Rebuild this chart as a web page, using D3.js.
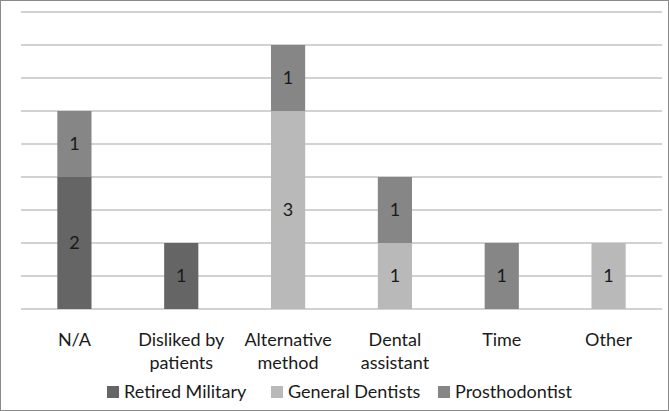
<!DOCTYPE html>
<html><head><meta charset="utf-8">
<script src="https://cdn.jsdelivr.net/npm/d3@7"></script>
<style>html,body{margin:0;padding:0;background:#fff}svg{display:block}</style>
</head><body>
<script>
const categories = [["N/A"], ["Disliked by","patients"], ["Alternative","method"], ["Dental","assistant"], ["Time"], ["Other"]];
const seriesNames = ["Retired Military", "General Dentists", "Prosthodontist"];
const retiredMilitary = [2, 1, 0, 0, 0, 0];
const generalDentists = [0, 0, 3, 1, 0, 1];
const prosthodontist = [1, 0, 1, 1, 1, 0];
const yTicks = [0, 0.5, 1, 1.5, 2, 2.5, 3, 3.5, 4, 4.5];
const colors = ["#656565", "#b9b9b9", "#868686"];

const W = 669, H = 411;
const font = "Lato, 'Open Sans', sans-serif";
const svg = d3.select("body").append("svg").attr("width", W).attr("height", H);
svg.append("rect").attr("x", 0.5).attr("y", 0.5).attr("width", W - 1).attr("height", H - 1)
  .attr("fill", "#fff").attr("stroke", "#8a8a8a");

const keys = categories.map((c, i) => i);
const x = d3.scaleBand().domain(keys).range([21, 662]).paddingInner(0.68).paddingOuter(0.34);
const y = d3.scaleLinear().domain([0, 4.5]).range([309, 12]);

svg.append("g").selectAll("line").data(yTicks).join("line")
  .attr("x1", 21).attr("x2", 662).attr("y1", d => y(d)).attr("y2", d => y(d))
  .attr("stroke", "#c3c3c3").attr("stroke-width", 1.6);

const rows = keys.map(i => ({i, rm: retiredMilitary[i], gd: generalDentists[i], pr: prosthodontist[i]}));
const stack = d3.stack().keys(["rm", "gd", "pr"])(rows);

stack.forEach((layer, si) => {
  const g = svg.append("g");
  layer.forEach(seg => {
    const v = seg[1] - seg[0];
    if (v <= 0) return;
    const i = seg.data.i;
    g.append("rect").attr("x", x(i)).attr("width", x.bandwidth())
      .attr("y", y(seg[1])).attr("height", y(seg[0]) - y(seg[1]))
      .attr("fill", colors[si]);
    g.append("text").attr("x", x(i) + x.bandwidth() / 2)
      .attr("y", (y(seg[0]) + y(seg[1])) / 2).attr("dy", "0.36em")
      .attr("text-anchor", "middle").attr("font-family", font).attr("font-size", 18)
      .attr("fill", "#1a1a1a").text(v);
  });
});

const xl = svg.append("g");
categories.forEach((lines, i) => {
  const t = xl.append("text").attr("text-anchor", "middle").attr("font-family", font)
    .attr("font-size", 18).attr("fill", "#1a1a1a");
  lines.forEach((ln, k) => {
    t.append("tspan").attr("x", x(i) + x.bandwidth() / 2).attr("y", 346 + k * 23).text(ln);
  });
});

const legX = [107, 271, 438];
const lg = svg.append("g");
seriesNames.forEach((n, si) => {
  lg.append("rect").attr("x", legX[si]).attr("y", 386).attr("width", 12).attr("height", 12).attr("fill", colors[si]);
  lg.append("text").attr("x", legX[si] + 17).attr("y", 392).attr("dy", "0.36em")
    .attr("font-family", font).attr("font-size", 18).attr("fill", "#1a1a1a").text(n);
});
</script>
</body></html>
